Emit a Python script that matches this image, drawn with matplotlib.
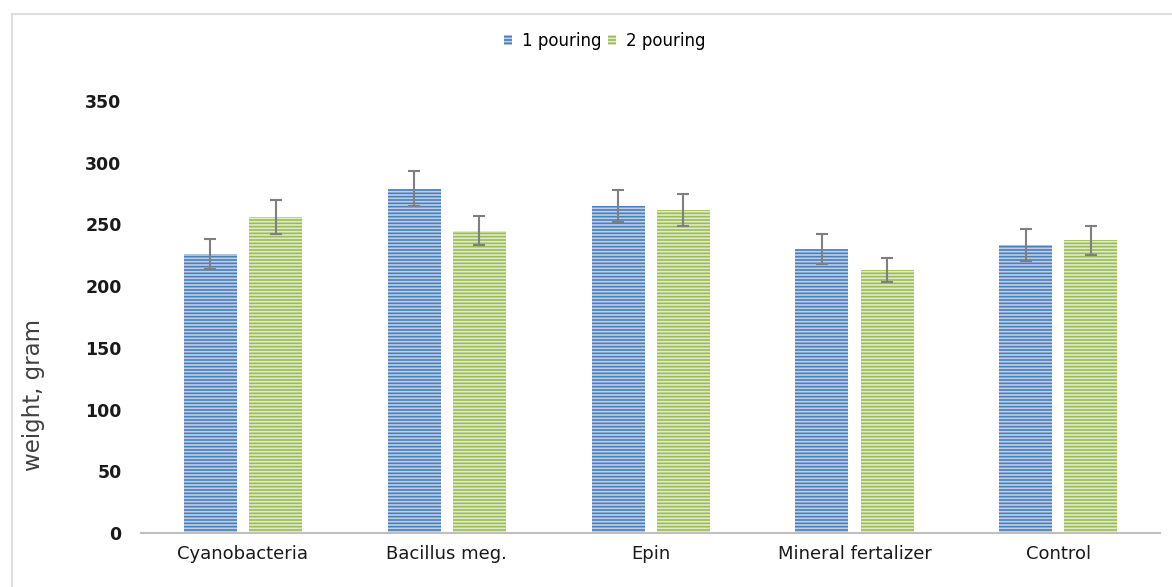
import matplotlib
matplotlib.use("Agg")
import matplotlib.pyplot as plt
import numpy as np
from matplotlib.lines import Line2D
from matplotlib.patches import Patch

categories = ["Cyanobacteria", "Bacillus meg.", "Epin", "Mineral fertalizer", "Control"]
series_names = ["1 pouring", "2 pouring"]
pour1 = [226, 279, 265, 230, 233]
pour2 = [256, 245, 262, 213, 237]
err1 = [12, 14, 13, 12, 13]
err2 = [14, 12, 13, 10, 12]
yticks = [0, 50, 100, 150, 200, 250, 300, 350]

blue = "#4a7ebb"
blue_stripe = "#bcd0e8"
green = "#9bbb59"
green_stripe = "#e0ebc8"

plt.rcParams["hatch.linewidth"] = 1.2

fig = plt.figure(figsize=(11.72, 5.87), dpi=100)
ax = fig.add_axes([0.1203, 0.092, 0.8697, 0.736])

x = np.arange(len(categories))
w = 0.26
gap = 0.06
off = (w + gap) / 2
ax.bar(x - off, pour1, width=w, color=blue, edgecolor=blue_stripe, linewidth=0, hatch="-----")
ax.bar(x + off, pour2, width=w, color=green, edgecolor=green_stripe, linewidth=0, hatch="-----")
ax.errorbar(x - off, pour1, yerr=err1, fmt="none", ecolor="#7f7f7f", elinewidth=1.5, capsize=4.5, capthick=1.5)
ax.errorbar(x + off, pour2, yerr=err2, fmt="none", ecolor="#7f7f7f", elinewidth=1.5, capsize=4.5, capthick=1.5)

ax.set_xlim(-0.5, len(categories) - 0.5)
ax.set_ylim(0, 350)
ax.set_yticks(yticks)
ax.set_yticklabels([str(t) for t in yticks], fontsize=12.5, fontweight="bold", color="#1a1a1a")
ax.set_xticks(x)
ax.set_xticklabels(categories, fontsize=13, color="#1a1a1a")
ax.tick_params(axis="both", length=0)
ax.tick_params(axis="y", pad=14)
ax.tick_params(axis="x", pad=9)
for s in ["left", "right", "top"]:
    ax.spines[s].set_visible(False)
ax.spines["bottom"].set_color("#bfbfbf")
ax.spines["bottom"].set_linewidth(1.5)

ax.set_ylabel("weight, gram", fontsize=16.5, color="#404040")
ax.yaxis.set_label_coords(-0.094, 0.32)

handles = [Patch(facecolor=blue, edgecolor=blue_stripe, linewidth=0, hatch="-----"),
           Patch(facecolor=green, edgecolor=green_stripe, linewidth=0, hatch="-----")]
fig.legend(handles, series_names, loc="center", bbox_to_anchor=(0.516, 0.93), ncol=2,
           frameon=False, fontsize=12, handlelength=0.5, handleheight=0.5,
           handletextpad=0.6, columnspacing=0.4)

fig.add_artist(Line2D([12 / 1172, 12 / 1172], [0, 1 - 14 / 587], transform=fig.transFigure,
                      color="#e0ddd8", linewidth=1.5))
fig.add_artist(Line2D([12 / 1172, 1], [1 - 14 / 587, 1 - 14 / 587], transform=fig.transFigure,
                      color="#e0ddd8", linewidth=1.5))

fig.savefig("out.png", dpi=100)
